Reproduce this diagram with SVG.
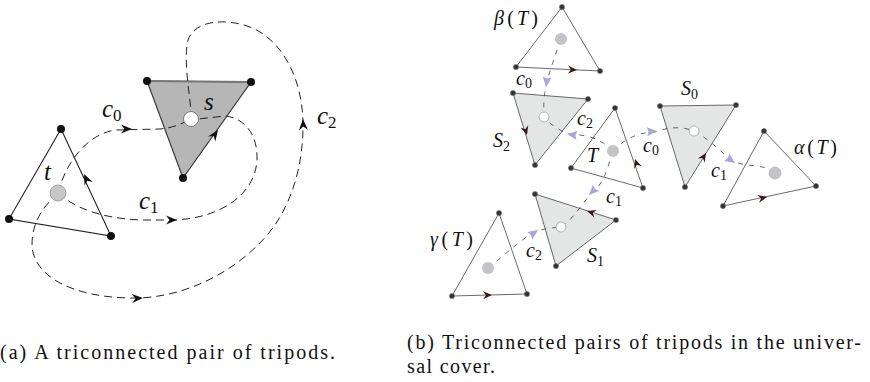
<svg xmlns="http://www.w3.org/2000/svg" xmlns:xlink="http://www.w3.org/1999/xlink" width="870" height="382" viewBox="0 0 870 382">
<style>
.edgeL{fill:none;stroke:#222;stroke-width:1.1}
.edgeR{fill:none;stroke:#444;stroke-width:0.8}
.dashL{fill:none;stroke:#222;stroke-width:1;stroke-dasharray:8,5}
.dashR{fill:none;stroke:#444;stroke-width:0.8;stroke-dasharray:5,6}
.dotL{fill:#111}
.dotR{fill:#333;stroke:#777;stroke-width:0.6}
.ahB{fill:#111}
.ahM{fill:#3d1518}
.ahP{fill:#a7a7da}
.lbl{font-family:"Liberation Serif","Times New Roman",serif;fill:#111}
.it{font-style:italic}
.cap{font-family:"Liberation Serif","Times New Roman",serif;fill:#111;font-size:20px}
</style>
<defs>
<path id="ah" d="M0,0 L-11,-4.5 L-7.5,0 L-11,4.5 Z"/>
<path id="ahs" d="M0,0 L-9,-4 L-6,0 L-9,4 Z"/>
<path id="aht" d="M0,0 L-10,-4.5 L-8.5,0 L-10,4.5 Z"/>
</defs>
<rect width="870" height="382" fill="#ffffff"/>

<!-- Left panel -->
<g id="left-s">
<polygon points="147,81 251,82 183,178" fill="#b6b6b6" stroke="#333" stroke-width="1.1"/>
<line x1="147" y1="81" x2="251" y2="82" stroke="#777" stroke-width="1.8"/>
</g>
<g id="left-t">
<polygon points="61,129 9,219 111,236" class="edgeL"/>
</g>
<g id="connectors-left">
<path class="dashL" d="M58,193 C65,165 85,135 115,130 L160,129 C172,128 182,124 191,119"/>
<path class="dashL" d="M58,193 C75,208 100,218 140,220 L175,220 C220,218 255,195 257,160 C258,135 245,118 225,116 L198,119"/>
<path class="dashL" d="M58,193 C45,205 32,220 32,245 C33,275 70,297 130,298 L140,298 C200,295 250,260 275,225 C295,195 303,160 303,125 C303,80 283,40 250,27 C225,18 195,20 188,40 C183,60 190,95 191,112"/>
<use xlink:href="#ah" class="ahB" transform="translate(132,129)"/>
<use xlink:href="#ah" class="ahB" transform="translate(177,220)"/>
<use xlink:href="#ah" class="ahB" transform="translate(143,298) rotate(-3)"/>
<use xlink:href="#ah" class="ahB" transform="translate(303,119) rotate(-92)"/>
<use xlink:href="#ah" class="ahB" transform="translate(84,174) rotate(-115)"/>
<use xlink:href="#ah" class="ahB" transform="translate(218,130) rotate(-54.7)"/>
</g>
<g id="left-markers">
<circle cx="58" cy="193" r="8" fill="#c6c6c6" stroke="#999" stroke-width="0.8"/>
<circle cx="191" cy="119" r="7.5" fill="#fff" stroke="#666" stroke-width="0.8"/>
<circle class="dotL" cx="61" cy="129" r="4"/>
<circle class="dotL" cx="9" cy="219" r="4"/>
<circle class="dotL" cx="111" cy="236" r="4"/>
<circle class="dotL" cx="147" cy="81" r="4"/>
<circle class="dotL" cx="251" cy="82" r="4"/>
<circle class="dotL" cx="183" cy="178" r="4"/>
</g>
<g id="left-labels" class="lbl" font-size="25">
<text x="102" y="117"><tspan class="it">c</tspan><tspan font-size="17" dy="4">0</tspan></text>
<text x="204" y="110" class="it">s</text>
<text x="44" y="180" class="it">t</text>
<text x="139" y="209"><tspan class="it">c</tspan><tspan font-size="17" dy="4">1</tspan></text>
<text x="317" y="124"><tspan class="it">c</tspan><tspan font-size="17" dy="4">2</tspan></text>
</g>

<!-- Right panel -->
<g id="S2"><polygon points="513,93 588,99 535,165" class="edgeR" style="fill:#e4e5e5"/></g>
<g id="S0"><polygon points="660,106 736,105 685,187" class="edgeR" style="fill:#e4e5e5"/></g>
<g id="S1"><polygon points="535,194 616,220 556,266" class="edgeR" style="fill:#e4e5e5"/></g>
<g id="betaT"><polygon points="562,7 516,67 600,71" class="edgeR"/></g>
<g id="T"><polygon points="615,108 571,168 643,188" class="edgeR"/></g>
<g id="alphaT"><polygon points="764,131 723,206 816,186" class="edgeR"/></g>
<g id="gammaT"><polygon points="499,213 452,296 527,294" class="edgeR"/></g>

<g id="connectors-right">
<path class="dashR" d="M561,39 Q548,75 546,86 Q543,100 544,117"/>
<path class="dashR" d="M613,151 C600,138 585,134 572,135 C560,131 552,126 544,117"/>
<path class="dashR" d="M613,151 C625,138 640,132 655,132 C670,126 685,127 694,131"/>
<path class="dashR" d="M694,131 C710,140 722,152 730,160 C745,168 765,163 775,173"/>
<path class="dashR" d="M613,151 C607,170 604,182 594,191 C584,200 575,218 561,227"/>
<path class="dashR" d="M488,268 C505,255 520,240 533,233 C543,228 552,228 561,227"/>
<use xlink:href="#aht" class="ahP" transform="translate(546,87) rotate(97)"/>
<use xlink:href="#aht" class="ahP" transform="translate(567,134) rotate(188)"/>
<use xlink:href="#aht" class="ahP" transform="translate(657,131) rotate(-4)"/>
<use xlink:href="#aht" class="ahP" transform="translate(735,163) rotate(35)"/>
<use xlink:href="#aht" class="ahP" transform="translate(589,195) rotate(135)"/>
<use xlink:href="#aht" class="ahP" transform="translate(538,230) rotate(-35)"/>
<use xlink:href="#ahs" class="ahM" transform="translate(577,70) rotate(2.7)"/>
<use xlink:href="#ahs" class="ahM" transform="translate(527,135) rotate(73)"/>
<use xlink:href="#ahs" class="ahM" transform="translate(635,159) rotate(-109.3)"/>
<use xlink:href="#ahs" class="ahM" transform="translate(706,153) rotate(-58)"/>
<use xlink:href="#ahs" class="ahM" transform="translate(767,197) rotate(-12.1)"/>
<use xlink:href="#ahs" class="ahM" transform="translate(587,211) rotate(197.8)"/>
<use xlink:href="#ahs" class="ahM" transform="translate(492,295) rotate(-1.5)"/>
</g>

<g id="right-markers">
<circle cx="561" cy="39" r="6" fill="#c4c4c8"/>
<circle cx="613" cy="151" r="6" fill="#c4c4c8"/>
<circle cx="775" cy="173" r="6" fill="#c4c4c8" stroke="#aaa" stroke-width="0.6"/>
<circle cx="488" cy="268" r="6" fill="#c4c4c8"/>
<circle cx="544" cy="117" r="5" fill="#fff" stroke="#888" stroke-width="0.6"/>
<circle cx="694" cy="131" r="5" fill="#fff" stroke="#888" stroke-width="0.6"/>
<circle cx="561" cy="227" r="5" fill="#fff" stroke="#888" stroke-width="0.6"/>
<circle class="dotR" cx="562" cy="7" r="2.6"/><circle class="dotR" cx="516" cy="67" r="2.6"/><circle class="dotR" cx="600" cy="71" r="2.6"/>
<circle class="dotR" cx="513" cy="93" r="2.6"/><circle class="dotR" cx="588" cy="99" r="2.6"/><circle class="dotR" cx="535" cy="165" r="2.6"/>
<circle class="dotR" cx="615" cy="108" r="2.6"/><circle class="dotR" cx="571" cy="168" r="2.6"/><circle class="dotR" cx="643" cy="188" r="2.6"/>
<circle class="dotR" cx="660" cy="106" r="2.6"/><circle class="dotR" cx="736" cy="105" r="2.6"/><circle class="dotR" cx="685" cy="187" r="2.6"/>
<circle class="dotR" cx="764" cy="131" r="2.6"/><circle class="dotR" cx="723" cy="206" r="2.6"/><circle class="dotR" cx="816" cy="186" r="2.6"/>
<circle class="dotR" cx="535" cy="194" r="2.6"/><circle class="dotR" cx="616" cy="220" r="2.6"/><circle class="dotR" cx="556" cy="266" r="2.6"/>
<circle class="dotR" cx="499" cy="213" r="2.6"/><circle class="dotR" cx="452" cy="296" r="2.6"/><circle class="dotR" cx="527" cy="294" r="2.6"/>
</g>

<g id="right-labels" class="lbl" font-size="20">
<text x="494" y="25" textLength="44" lengthAdjust="spacing"><tspan class="it">β</tspan>(<tspan class="it">T</tspan>)</text>
<text x="516" y="85"><tspan class="it">c</tspan><tspan font-size="14" dy="3">0</tspan></text>
<text x="493" y="147"><tspan class="it">S</tspan><tspan font-size="14" dy="4">2</tspan></text>
<text x="577" y="125"><tspan class="it">c</tspan><tspan font-size="14" dy="3">2</tspan></text>
<text x="587" y="162" class="it">T</text>
<text x="643" y="152"><tspan class="it">c</tspan><tspan font-size="14" dy="3">0</tspan></text>
<text x="681" y="95"><tspan class="it">S</tspan><tspan font-size="14" dy="4">0</tspan></text>
<text x="711" y="177"><tspan class="it">c</tspan><tspan font-size="14" dy="3">1</tspan></text>
<text x="794" y="154" textLength="43" lengthAdjust="spacing"><tspan class="it">α</tspan>(<tspan class="it">T</tspan>)</text>
<text x="606" y="203"><tspan class="it">c</tspan><tspan font-size="14" dy="3">1</tspan></text>
<text x="587" y="262"><tspan class="it">S</tspan><tspan font-size="14" dy="4">1</tspan></text>
<text x="526" y="257"><tspan class="it">c</tspan><tspan font-size="14" dy="3">2</tspan></text>
<text x="430" y="246" textLength="43" lengthAdjust="spacing"><tspan class="it">γ</tspan>(<tspan class="it">T</tspan>)</text>
</g>

<g id="captions">
<text class="cap" x="0" y="359" textLength="335" lengthAdjust="spacing">(a) A triconnected pair of tripods.</text>
<text class="cap" x="407" y="349" textLength="454" lengthAdjust="spacing">(b) Triconnected pairs of tripods in the univer-</text>
<text class="cap" x="407" y="373" textLength="88" lengthAdjust="spacing">sal cover.</text>
</g>
</svg>
